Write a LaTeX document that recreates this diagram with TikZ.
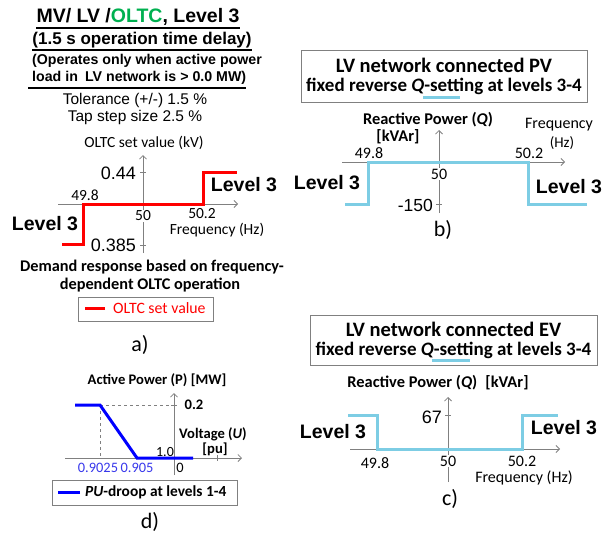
\documentclass[tikz,border=0pt]{standalone}
\usepackage{fontspec}
\setmainfont{Liberation Sans}
\newfontfamily\calibri{Carlito}
\usetikzlibrary{arrows.meta}

\definecolor{oltcred}{RGB}{255,0,0}
\definecolor{oltcgreen}{RGB}{0,176,80}
\definecolor{qcyan}{RGB}{125,205,228}
\definecolor{axgray}{RGB}{128,128,128}
\definecolor{droopblue}{RGB}{0,0,255}
\definecolor{voltblue}{RGB}{55,55,235}

\tikzset{
  every node/.style={inner sep=0pt},
  ari/.style={font=\fontsize{#1}{#1}\selectfont},
  arb/.style={font=\bfseries\fontsize{#1}{#1}\selectfont},
  cal/.style={font=\calibri\fontsize{#1}{#1}\selectfont},
  calb/.style={font=\calibri\bfseries\fontsize{#1}{#1}\selectfont},
  axis/.style={draw=axgray, line width=0.8pt, -{Straight Barb[length=3.5pt,width=7pt]}},
  tickmark/.style={draw=axgray, line width=0.8pt},
  redline/.style={draw=oltcred, line width=3pt},
  qline/.style={draw=qcyan, line width=3pt},
  droopline/.style={draw=droopblue, line width=3pt},
  legbox/.style={draw=axgray, line width=0.8pt},
  titlebox/.style={draw=axgray, line width=1pt, align=center},
  uline/.style={line width=1.5pt}
}

\begin{document}
\begin{tikzpicture}[x=1pt, y=-1pt]
  \useasboundingbox (0,0) rectangle (616,538);

  \node[arb=19.5] (ttlA) at (138,17) {MV/ LV /\textcolor{oltcgreen}{OLTC}, Level 3};
  \node[arb=17] (delayA) at (142,40) {(1.5 s operation time delay)};
  \node[arb=14.2, anchor=west] (opA1) at (32,61) {(Operates only when active power};
  \node[arb=14.2, anchor=west] (opA2) at (32,78) {load in\enspace LV network is > 0.0 MW)};
  \node[ari=15.5] (tolA) at (135,100) {Tolerance (+/-) 1.5 \%};
  \node[ari=15.5] (tapA) at (135,117) {Tap step size 2.5 \%};
  \draw[uline] ([yshift=-2pt]ttlA.south west) -- ([yshift=-2pt]ttlA.south east);
  \draw[uline] ([yshift=-2pt]delayA.south west) -- ([yshift=-2pt]delayA.south east);
  \draw[uline] ([xshift=-4pt,yshift=-3pt]opA2.south west) -- ([yshift=-3pt]opA2.south east);

  \draw[axis] (143,253) -- (143,155);
  \draw[axis] (58,204) -- (238,204);
  \draw[tickmark] (140,172) -- (146,172);
  \draw[tickmark] (140,245) -- (146,245);
  \draw[redline] (62,244) -- (83,244) -- (83,204) -- (203,204) -- (203,172) -- (237,172);
  \node[cal=15.5] (ylabA) at (144,143) {OLTC set value (kV)};
  \node[ari=18, anchor=east] (hiA) at (136,173) {0.44};
  \node[ari=18, anchor=east] (loA) at (136,245) {0.385};
  \node[cal=15.5] (f498A) at (85,195) {49.8};
  \node[cal=15.5, fill=white, inner sep=1pt] (f50A) at (143,216) {50};
  \node[cal=15.5] (f502A) at (202,214) {50.2};
  \node[cal=15.5] (xlabA) at (217,230) {Frequency (Hz)};
  \node[arb=19.5] (lvlA1) at (45,224) {Level 3};
  \node[arb=19.5] (lvlA2) at (244,185) {Level 3};
  \node[calb=16.3] (demA1) at (152,267) {Demand response based on frequency-};
  \node[calb=16.3] (demA2) at (150,285) {dependent OLTC operation};
  \node[legbox, minimum width=135pt, minimum height=24pt] (legA) at (145.5,309) {};
  \node[cal=15.8, text=oltcred, anchor=west] (legAt) at (113,308) {OLTC set value};
  \draw[redline] ([xshift=-8pt]legAt.west) -- ++(-20,0);
  \node[cal=22] (capA) at (140,345) {a)};

  \node[calb=14.6] (ylabD) at (157,380) {Active Power (P) [MW]};
  \draw[axis] (174,475) -- (174,393);
  \draw[axis] (65,458) -- (242,458);
  \draw[tickmark] (171,405) -- (177,405);
  \draw[tickmark] (217,455) -- (217,461);
  \draw[axgray, dashed, line width=0.7pt] (100,405) -- (171,405);
  \draw[axgray, dashed, line width=0.7pt] (100,405) -- (100,458);
  \draw[droopline] (75,405) -- (100,405) -- (137,458) -- (193,458);
  \node[calb=14.6] (pmaxD) at (194,405) {0.2};
  \node[calb=14.6] (xlabD1) at (213,434) {Voltage (\textit{U})};
  \node[calb=14.6] (xlabD2) at (215,449) {[pu]};
  \node[cal=14] (oneD) at (165,452) {1.0};
  \node[cal=14.4, text=voltblue] (u1D) at (98,468) {0.9025};
  \node[cal=14.4, text=voltblue] (u2D) at (137,468) {0.905};
  \node[cal=14.4] (zeroD) at (180,468) {0};
  \node[legbox, minimum width=185pt, minimum height=25pt] (legD) at (144.5,492.5) {};
  \node[calb=15.4, anchor=west] (legDt) at (85,492) {\textit{PU}-droop at levels 1-4};
  \draw[droopline] ([xshift=-5pt]legDt.west) -- ++(-22,0);
  \node[cal=22] (capD) at (150,522) {d)};

  \node[titlebox, minimum width=286pt, minimum height=52pt, calb=19] (boxB) at (444,76)
    {{\fontsize{20.5}{20.5}\selectfont LV network connected PV}\\[0pt] fixed reverse \textit{Q}-setting at levels 3-4};
  \draw[qline] (423,97) -- (460,97);
  \draw[axis] (439,213) -- (439,130);
  \draw[axis] (342,162) -- (565,162);
  \draw[tickmark] (436,204) -- (442,204);
  \draw[qline] (345,204) -- (368,204) -- (368,162) -- (528,162) -- (528,204) -- (587,204);
  \node[calb=16.4] (ylabB1) at (428,120) {Reactive Power (\textit{Q})};
  \node[calb=16.4] (ylabB2) at (398,137) {[kVAr]};
  \node[cal=16] (xlabB1) at (559,125) {Frequency};
  \node[cal=15] (xlabB2) at (562,143) {(Hz)};
  \node[cal=16] (f498B) at (369,153) {49.8};
  \node[cal=16] (f502B) at (529,153) {50.2};
  \node[cal=16, fill=white, inner sep=1pt] (f50B) at (439,174) {50};
  \node[ari=17.5, anchor=east] (qB) at (433,205) {-150};
  \node[arb=19.5] (lvlB1) at (327,183) {Level 3};
  \node[arb=19.5] (lvlB2) at (569,187) {Level 3};
  \node[cal=22] (capB) at (443,230) {b)};

  \node[titlebox, minimum width=287pt, minimum height=50pt, calb=19] (boxC) at (453.5,340)
    {{\fontsize{20.5}{20.5}\selectfont LV network connected EV}\\[0pt] fixed reverse \textit{Q}-setting at levels 3-4};
  \draw[qline] (432,360) -- (470,360);
  \draw[axis] (448,482) -- (448,397);
  \draw[axis] (350,449) -- (560,449);
  \draw[tickmark] (445,415) -- (451,415);
  \draw[qline] (348,415) -- (377,415) -- (377,449) -- (522,449) -- (522,415) -- (558,415);
  \node[calb=16.4] (ylabC) at (438,383) {Reactive Power (\textit{Q})\enspace[kVAr]};
  \node[ari=18, anchor=east] (qC) at (442,417) {67};
  \node[arb=19.5] (lvlC1) at (333,432) {Level 3};
  \node[arb=19.5] (lvlC2) at (564,428) {Level 3};
  \node[cal=16] (f498C) at (375,463) {49.8};
  \node[cal=16, fill=white, inner sep=1pt] (f50C) at (448,461) {50};
  \node[cal=16] (f502C) at (522,461) {50.2};
  \node[cal=16] (xlabC) at (524,478) {Frequency (Hz)};
  \node[cal=22] (capC) at (450,499) {c)};
\end{tikzpicture}
\end{document}
